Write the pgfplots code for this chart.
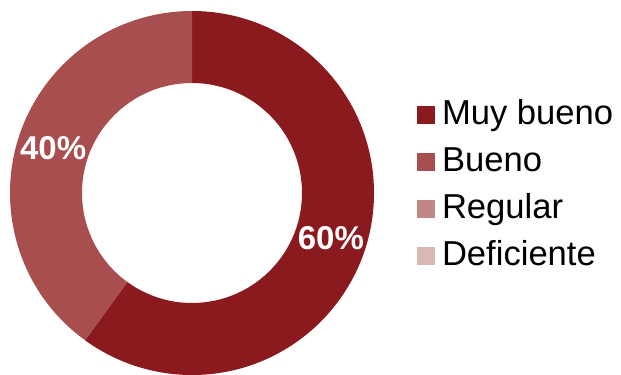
\documentclass[border=0pt]{standalone}
\usepackage{fontspec}
\setmainfont{Liberation Sans}
\usepackage{pgfplots}
\usepackage{pgfplotstable}
\pgfplotsset{compat=1.18}
\definecolor{cMB}{HTML}{8B1A1E}
\definecolor{cB}{HTML}{A84E4E}
\definecolor{cR}{HTML}{BF8886}
\definecolor{cD}{HTML}{D8B8B3}
\pgfplotstableread{
label value
MuyBueno 60
Bueno 40
Regular 0
Deficiente 0
}\datatable
\begin{document}
\begin{tikzpicture}
\pgfplotstablegetelem{0}{value}\of\datatable \let\vA\pgfplotsretval
\pgfplotstablegetelem{1}{value}\of\datatable \let\vB\pgfplotsretval
\pgfmathsetmacro\aA{90-3.6*\vA}
\pgfmathsetmacro\aB{\aA-3.6*\vB}
\pgfmathsetmacro\mA{(90+\aA)/2}
\pgfmathsetmacro\mB{(\aA+\aB)/2}
\pgfmathtruncatemacro\pA{\vA}
\pgfmathtruncatemacro\pB{\vB}
\begin{axis}[
  x=1bp, y=1bp,
  xmin=-192, xmax=429, ymin=-181, ymax=193,
  hide axis,
  clip=true,
  legend style={at={(axis cs:225,94)}, anchor=north west, draw=none, fill=none,
    font=\fontsize{34.6bp}{38bp}\selectfont, inner sep=0pt, outer sep=0pt,
    row sep=15bp,
    nodes={inner sep=0pt, text height=25bp, text depth=7bp},
    /tikz/every odd column/.append style={column sep=7bp}},
  legend cell align=left,
  legend image code/.code={\fill[#1] (0bp,-9bp) rectangle (18bp,9bp);},
]
\fill[cMB] ([shift={(90:182bp)}]axis cs:0,0) arc[start angle=90, end angle=\aA, radius=182bp]
  -- ([shift={(\aA:110bp)}]axis cs:0,0) arc[start angle=\aA, end angle=90, radius=110bp] -- cycle;
\fill[cB] ([shift={(\aA:182bp)}]axis cs:0,0) arc[start angle=\aA, end angle=\aB, radius=182bp]
  -- ([shift={(\aB:110bp)}]axis cs:0,0) arc[start angle=\aB, end angle=\aA, radius=110bp] -- cycle;
\node[text=white, font=\fontsize{33bp}{36bp}\selectfont\bfseries, inner sep=0pt] at ([shift={(\mA:146bp)}]axis cs:0,0) {\pA\%};
\node[text=white, font=\fontsize{33bp}{36bp}\selectfont\bfseries, inner sep=0pt] at ([shift={(\mB:146bp)}]axis cs:0,0) {\pB\%};
\addlegendimage{fill=cMB, draw=none}
\addlegendentry{Muy bueno}
\addlegendimage{fill=cB, draw=none}
\addlegendentry{Bueno}
\addlegendimage{fill=cR, draw=none}
\addlegendentry{Regular}
\addlegendimage{fill=cD, draw=none}
\addlegendentry{Deficiente}
\end{axis}
\pgfresetboundingbox
\useasboundingbox (current axis.south west) rectangle (current axis.north east);
\end{tikzpicture}
\end{document}
